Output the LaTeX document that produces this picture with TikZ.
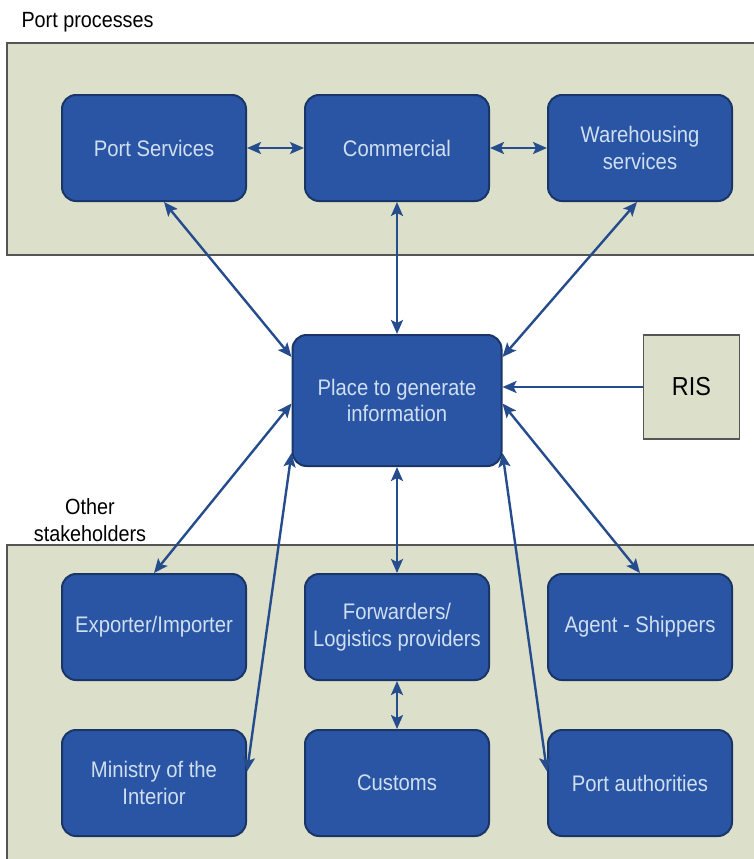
\documentclass[tikz,border=0pt]{standalone}
\usepackage{fontspec}
\setmainfont[FakeStretch=0.9]{Liberation Sans}
\usepackage{xcolor}
\usetikzlibrary{positioning,arrows.meta,backgrounds}
\definecolor{cazul}{HTML}{2A55A5}
\definecolor{cborde}{HTML}{1A3568}
\definecolor{ctexto}{HTML}{CFDFF0}
\definecolor{cflecha}{HTML}{254C8C}
\definecolor{cbanda}{HTML}{DCE0CA}
\definecolor{cgris}{HTML}{555555}
\tikzset{
  caja/.style={rectangle, rounded corners=14pt, draw=cborde, line width=2pt, fill=cazul,
    text=ctexto, align=center, minimum width=184pt, minimum height=106pt,
    font=\fontsize{22.5}{26.5}\selectfont},
  cajai/.style={caja, minimum width=209pt, minimum height=131pt},
  cajar/.style={rectangle, draw=cgris, line width=1.8pt, fill=cbanda, minimum width=96pt,
    minimum height=104pt, font=\fontsize{26}{28}\selectfont},
  banda/.style={draw=cgris, line width=1.8pt, fill=cbanda},
  flecha/.style={-{Stealth[length=14pt,width=12pt,inset=3pt]}, line width=2.4pt, draw=cflecha},
  flechad/.style={{Stealth[length=14pt,width=12pt,inset=3pt]}-{Stealth[length=14pt,width=12pt,inset=3pt]},
    line width=2.4pt, draw=cflecha},
  etq/.style={font=\fontsize{22}{27}\selectfont, text=black},
}
\begin{document}
\begin{tikzpicture}[x=1pt, y=1pt, node distance=57pt]
  \useasboundingbox (0,0) rectangle (754,-859);
  \draw[banda] (7,-43) rectangle (770,-255);
  \draw[banda] (7,-545) rectangle (770,-875);
  \node[etq, anchor=west] (tpp) at (18,-22) {Port processes};
  \node[etq, align=center] (tos) at (90,-520) {Other\\stakeholders};

  \node[cajai] (info) at (397,-400.5) {Place to generate\\information};
  \node[caja, above=132pt of info] (com) {Commercial};
  \node[caja, left=of com] (ps) {Port Services};
  \node[caja, right=of com] (wh) {Warehousing\\services};
  \node[cajar, right=140pt of info, yshift=13.5pt] (ris) {RIS};
  \node[caja, below=106pt of info] (fw) {Forwarders/\\Logistics providers};
  \node[caja, left=of fw] (ex) {Exporter/Importer};
  \node[caja, right=of fw] (ag) {Agent - Shippers};
  \node[caja, below=48pt of fw] (cu) {Customs};
  \node[caja, left=of cu] (mi) {Ministry of the\\Interior};
  \node[caja, right=of cu] (pa) {Port authorities};

  \draw[flechad] (ps) -- (com); \draw[flechad] (com) -- (wh);
  \draw[flechad] ([xshift=10pt]ps.south) -- ([yshift=-23pt]info.north west);
  \draw[flechad] (com) -- (info);
  \draw[flechad] ([xshift=-3pt]wh.south) -- ([yshift=-23pt]info.north east);
  \draw[flecha] (ris.west) -- (ris.west -| info.east);
  \draw[flechad] ([yshift=-3pt]info.west) -- (ex.north);
  \draw[flechad] ([yshift=-3pt]info.east) -- (ag.north);
  \draw[flechad] ([yshift=14pt]info.south west) -- ([yshift=11.5pt]mi.east);
  \draw[flechad] ([yshift=14pt]info.south east) -- ([yshift=11.5pt]pa.west);
  \draw[flechad] (info) -- (fw); \draw[flechad] (fw) -- (cu);
\end{tikzpicture}
\end{document}
